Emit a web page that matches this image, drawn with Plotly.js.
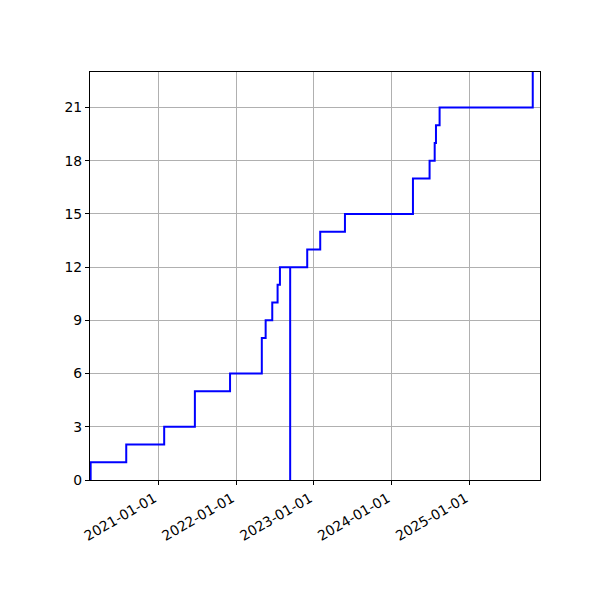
<!DOCTYPE html>
<html>
<head>
<meta charset="utf-8">
<script src="https://cdn.plot.ly/plotly-3.0.1.min.js"></script>
<style>
  body { margin: 0; background: #fff; }
  #chart { width: 600px; height: 600px; }
</style>
</head>
<body>
<div id="chart"></div>
<script>
// step dates and running count
const dates = [
  '2020-02-16', '2020-02-19', '2020-08-04', '2021-01-29', '2021-06-22',
  '2021-12-04', '2022-05-02', '2022-05-20', '2022-06-20', '2022-07-15',
  '2022-07-26', '2022-09-12', '2022-09-12', '2022-12-01', '2023-01-31',
  '2023-05-27', '2024-04-10', '2024-06-27', '2024-07-21', '2024-07-27',
  '2024-08-13', '2025-10-24'
]
const counts = [0, 1, 2, 3, 5, 6, 8, 9, 10, 11, 12, 0, 12, 13, 14, 15, 17, 18, 19, 20, 21, 23]

const xTicks = ['2021-01-01', '2022-01-01', '2023-01-01', '2024-01-01', '2025-01-01']
const yTicks = [0, 3, 6, 9, 12, 15, 18, 21]

//chart style
const font = { family: "'DejaVu Sans', sans-serif", size: 13.9, color: '#000' }
const gridColor = '#b0b0b0'

let trace = {
  x: dates,
  y: counts,
  type: 'scatter',
  mode: 'lines',
  line: { color: 'rgb(0,0,255)', width: 2, shape: 'hv' },
  hoverinfo: 'x+y',
}

let axisCommon = {
  showline: true,
  linecolor: '#000',
  linewidth: 1.1,
  mirror: true,
  ticks: 'outside',
  ticklen: 4,
  tickwidth: 1.1,
  tickcolor: '#000',
  showgrid: true,
  gridcolor: gridColor,
  gridwidth: 1.1,
  zeroline: false,
  tickfont: font,
}

let layout = {
  width: 600,
  height: 600,
  margin: { l: 90, r: 60, t: 72, b: 120 },
  paper_bgcolor: '#fff',
  plot_bgcolor: '#fff',
  showlegend: false,
  font: font,
  xaxis: {
    ...axisCommon,
    type: 'date',
    range: ['2020-02-16', '2025-11-27'],
    tickvals: xTicks,
    ticktext: xTicks,
    tickangle: -30,
    //nudge rotated labels left so they end at the tick
    ticklabelshift: -4,
  },
  yaxis: {
    ...axisCommon,
    range: [0, 23],
    tickvals: yTicks,
    ticktext: yTicks.map(String),
  },
}

Plotly.newPlot('chart', [trace], layout, { displayModeBar: false, displaylogo: false })
</script>
</body>
</html>
